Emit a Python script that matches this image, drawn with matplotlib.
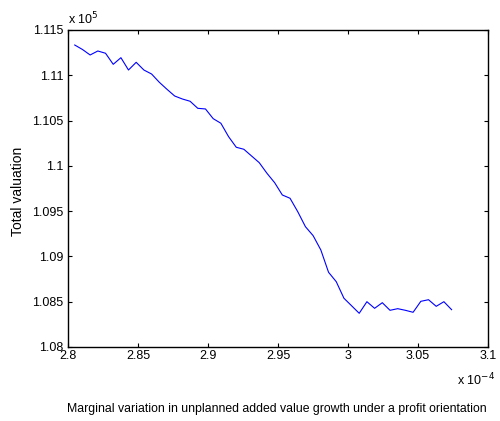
import matplotlib
matplotlib.use("Agg")
import matplotlib.pyplot as plt

plt.rcParams['font.family'] = ['Liberation Sans', 'DejaVu Sans']

# x in units of 1e-4, y in units of 1e5
x_vals = [2.8048, 2.8103, 2.8158, 2.8213, 2.8268, 2.8323, 2.8378, 2.8432, 2.8487, 2.8542,
          2.8597, 2.8652, 2.8707, 2.8762, 2.8817, 2.8872, 2.8927, 2.8982, 2.9037, 2.9092,
          2.9147, 2.9202, 2.9256, 2.9311, 2.9366, 2.9421, 2.9476, 2.9531, 2.9586, 2.9641,
          2.9696, 2.9751, 2.9806, 2.9861, 2.9916, 2.9971, 3.0025, 3.0080, 3.0135, 3.0190,
          3.0245, 3.0300, 3.0355, 3.0410, 3.0465, 3.0520, 3.0575, 3.0630, 3.0685, 3.0740]
y_vals = [1.11334, 1.11285, 1.11224, 1.11268, 1.11243, 1.11121, 1.11194, 1.11058, 1.11143, 1.11058,
          1.11014, 1.10923, 1.10845, 1.10771, 1.10738, 1.10713, 1.10635, 1.10628, 1.10521, 1.10470,
          1.10322, 1.10205, 1.10183, 1.10109, 1.10035, 1.09918, 1.09814, 1.09678, 1.09642, 1.09494,
          1.09328, 1.09229, 1.09071, 1.08825, 1.08721, 1.08538, 1.08456, 1.08372, 1.08500, 1.08427,
          1.08489, 1.08405, 1.08423, 1.08405, 1.08383, 1.08504, 1.08522, 1.08449, 1.08500, 1.08412]

x_ticks = [2.8, 2.85, 2.9, 2.95, 3.0, 3.05, 3.1]
x_tick_labels = ['2.8', '2.85', '2.9', '2.95', '3', '3.05', '3.1']
y_ticks = [1.08, 1.085, 1.09, 1.095, 1.1, 1.105, 1.11, 1.115]
y_tick_labels = ['1.08', '1.085', '1.09', '1.095', '1.1', '1.105', '1.11', '1.115']

fig = plt.figure(figsize=(5.0, 4.21), dpi=100)
ax = fig.add_axes([0.136, 0.1758, 0.840, 0.753])
ax.plot(x_vals, y_vals, color=(0, 0, 1), linewidth=0.8)

ax.set_xlim(2.8, 3.1)
ax.set_ylim(1.08, 1.115)
ax.set_xticks(x_ticks)
ax.set_xticklabels(x_tick_labels)
ax.set_yticks(y_ticks)
ax.set_yticklabels(y_tick_labels)
ax.tick_params(direction='in', length=3, width=0.8, top=True, right=True,
               labelsize=9)
ax.tick_params(axis='x', pad=2.5)
ax.tick_params(axis='y', pad=3.5)
for s in ax.spines.values():
    s.set_linewidth(1.0)
    s.set_color('black')

ax.text(0.0, 1.019, r'x 10$^{5}$', transform=ax.transAxes, fontsize=9,
        ha='left', va='baseline')
ax.text(0.926, -0.12, r'x 10$^{-4}$', transform=ax.transAxes, fontsize=9,
        ha='left', va='baseline')
ax.set_ylabel('Total valuation', fontsize=10)
ax.yaxis.set_label_coords(-0.102, 0.492)
fig.text(0.554, 0.028, 'Marginal variation in unplanned added value growth under a profit orientation',
         fontsize=8.8, ha='center', va='center')

fig.savefig('out.png', dpi=100)
